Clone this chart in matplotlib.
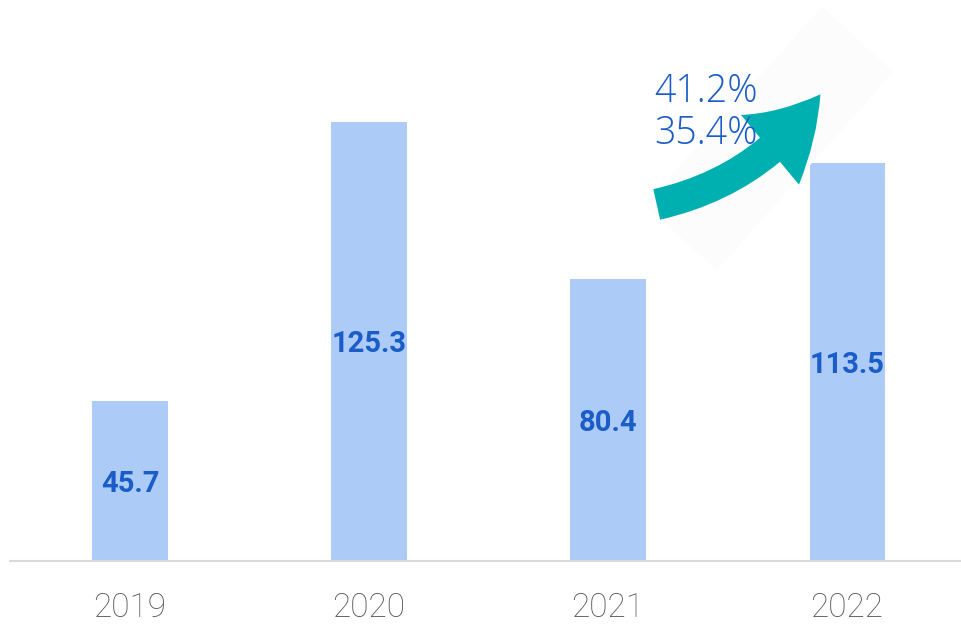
import matplotlib
matplotlib.use("Agg")
import matplotlib.pyplot as plt
from matplotlib.patches import FancyArrowPatch, Polygon

years = ["2019", "2020", "2021", "2022"]
values = [45.7, 125.3, 80.4, 113.5]
growth_labels = ["41.2%", "35.4%"]

bar_color = "#adcbf7"
label_color = "#1a5cc8"
tick_color = "#555555"
arrow_color = "#00b0b0"

fig = plt.figure(figsize=(9.62, 6.25), dpi=100)
ax = fig.add_axes([10 / 962, 1 - 561 / 625, 952 / 962, 561 / 625])

x = list(range(len(years)))
bars = ax.bar(x, values, width=0.314, color=bar_color, zorder=2)
for xi, v in zip(x, values):
    ax.text(xi, v / 2, f"{v}", ha="center", va="center_baseline", fontsize=21,
            fontweight="bold", color=label_color, family=["Roboto", "DejaVu Sans"], zorder=3)

ax.set_xlim(-0.502, 3.481)
ax.set_ylim(0, 160.1)
ax.set_xticks(x)
ax.set_xticklabels(years, fontsize=24, color=tick_color, fontweight="light",
                   family=["Roboto", "DejaVu Sans"])
ax.tick_params(axis="x", length=0, pad=22)
ax.set_yticks([])
for s in ["top", "right", "left"]:
    ax.spines[s].set_visible(False)
ax.spines["bottom"].set_color("#d9d9d9")
ax.spines["bottom"].set_linewidth(1.5)

# overlay in pixel coordinates for the growth arrow
ov = fig.add_axes([0, 0, 1, 1], facecolor="none")
ov.set_xlim(0, 962)
ov.set_ylim(625, 0)
ov.axis("off")
ov.add_patch(Polygon([(822, 7), (893, 72), (717, 270), (645, 205)],
                     closed=True, facecolor="#fcfcfc", edgecolor="none"))
arr = FancyArrowPatch((654, 205), (822, 92),
                      arrowstyle="simple,head_length=1.2,head_width=1.45,tail_width=0.5",
                      mutation_scale=45, connectionstyle="arc3,rad=0.2",
                      color=arrow_color, lw=0)
ov.add_patch(arr)

ov.text(654, 92, growth_labels[0], fontsize=27, color=label_color, va="center",
        family=["Open Sans", "Roboto"], fontweight="light", zorder=5)
ov.text(654, 134, growth_labels[1], fontsize=27, color=label_color, va="center",
        family=["Open Sans", "Roboto"], fontweight="light", zorder=5)

fig.savefig("out.png", dpi=100, facecolor="white")
